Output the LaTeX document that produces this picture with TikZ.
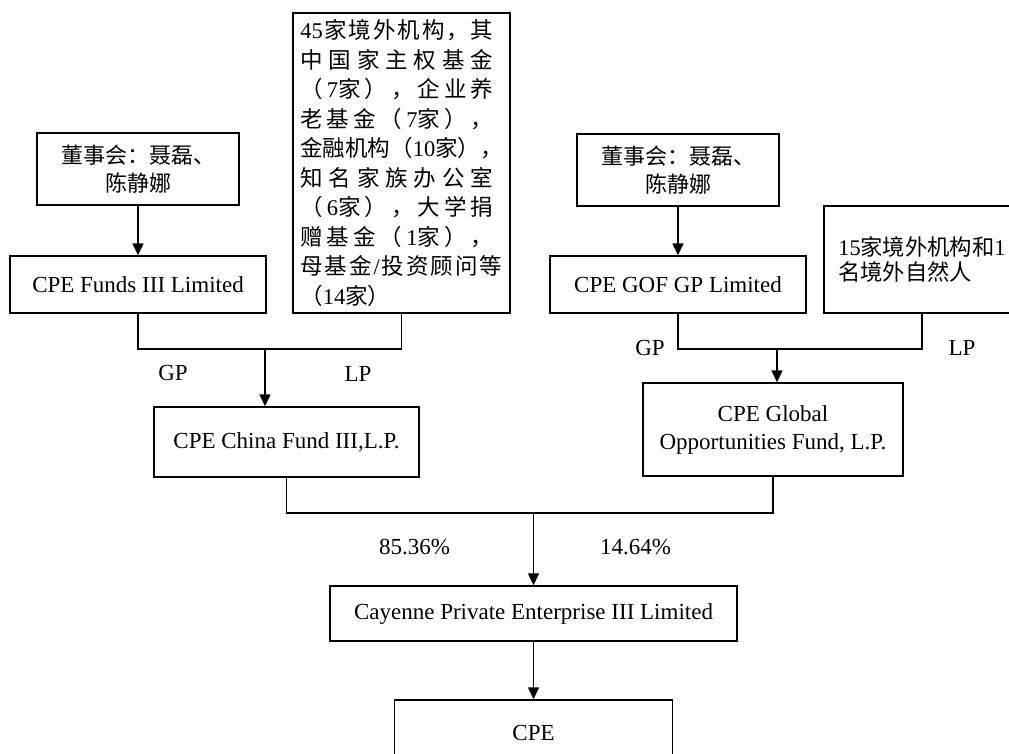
\documentclass[tikz,border=0pt]{standalone}
\usepackage{fontspec}
\setmainfont{Liberation Serif}
\newfontfamily\cjk{Noto Sans CJK SC}
\usetikzlibrary{arrows.meta}
\newcommand\jl[1]{\hbox to 193pt{#1}}
\begin{document}
\begin{tikzpicture}[x=1pt,y=-1pt,
  box/.style={draw,line width=1.4pt,inner sep=0pt,align=center,font=\fontsize{23}{28}\selectfont},
  cjkf/.style={font=\cjk\fontsize{22}{28}\selectfont},
  conn/.style={line width=1.4pt},
  arr/.style={conn,-{Triangle[length=12pt,width=11pt]}},
  lbl/.style={inner sep=0pt,font=\fontsize{23}{28}\selectfont}]
\useasboundingbox (0,0) rectangle (1009,753);
\clip (0,0) rectangle (1009,753);
% left branch
\node[box,cjkf,minimum width=202pt,minimum height=72pt] (dsL) at (138,169) {董事会：聂磊、\\陈静娜};
\node[box,minimum width=256pt,minimum height=57pt] (fundsL) at (138,284.5) {CPE Funds III Limited};
\node[box,align=left,minimum width=217pt,minimum height=300pt,font=\cjk\fontsize{22.5}{29.5}\selectfont] (lpL) at (401.5,163) {%
\jl{\textrm{45}\hfil 家\hfil 境\hfil 外\hfil 机\hfil 构\hfil ，\hfil 其}\\
\jl{中\hfil 国\hfil 家\hfil 主\hfil 权\hfil 基\hfil 金}\\
\jl{（\hfil \textrm{7}家\hfil ）\hfil ，\hfil 企\hfil 业\hfil 养}\\
\jl{老\hfil 基\hfil 金\hfil （\hfil \textrm{7}家\hfil ）\hfil ，}\\
\hbox{金融机构（\textrm{10}家），}\\
\jl{知\hfil 名\hfil 家\hfil 族\hfil 办\hfil 公\hfil 室}\\
\jl{（\hfil \textrm{6}家\hfil ）\hfil ，\hfil 大\hfil 学\hfil 捐}\\
\jl{赠\hfil 基\hfil 金\hfil （\hfil \textrm{1}家\hfil ）\hfil ，}\\
\hbox to 202pt{母\hfil 基\hfil 金\hfil \textrm{/}\hfil 投\hfil 资\hfil 顾\hfil 问\hfil 等}\\
\hbox{（\textrm{14}家）}};
\node[box,minimum width=265pt,minimum height=70pt] (china) at (286.5,442) {CPE China Fund III,L.P.};
% right branch
\node[box,cjkf,minimum width=202pt,minimum height=72pt] (dsR) at (678,170) {董事会：聂磊、\\陈静娜};
\node[box,minimum width=256pt,minimum height=57pt] (gof) at (678,284.5) {CPE GOF GP Limited};
\node[box,align=left,minimum width=196pt,minimum height=107pt,font=\cjk\fontsize{22.3}{25}\selectfont] (lpR) at (922,259.5) {\textrm{15}家境外机构和\textrm{1}\\名境外自然人};
\node[box,minimum width=260pt,minimum height=93pt] (global) at (773,429.5) {CPE Global\\Opportunities Fund, L.P.};
% bottom
\node[box,minimum width=407pt,minimum height=55pt] (cay) at (533.5,613.5) {Cayenne Private Enterprise III Limited};
\node[box,minimum width=278pt,minimum height=66pt] (cpe) at (533.5,733) {CPE};
% connectors
\draw[arr] (dsL.south) -- (fundsL.north);
\coordinate (jL) at (265,349);
\draw[conn] (fundsL.south) |- (jL) -| (lpL.south);
\draw[arr] (jL) -- (jL |- china.north);
\draw[arr] (dsR.south) -- (gof.north);
\coordinate (jR) at (777,349);
\draw[conn] (gof.south) |- (jR) -| (lpR.south);
\draw[arr] (jR) -- (jR |- global.north);
\coordinate (jB) at (533.5,513);
\draw[conn] (china.south) |- (jB) -| (global.south);
\draw[arr] (jB) -- (cay.north);
\draw[arr] (cay.south) -- (cpe.north);
% labels
\node[lbl] (gpL) at (173,373) {GP};
\node[lbl] (lpLl) at (358,374) {LP};
\node[lbl] (gpR) at (650,348) {GP};
\node[lbl] (lpRl) at (962,348) {LP};
\node[lbl] (pL) at (414.5,547) {85.36\%};
\node[lbl] (pR) at (635.5,547) {14.64\%};
\end{tikzpicture}
\end{document}
